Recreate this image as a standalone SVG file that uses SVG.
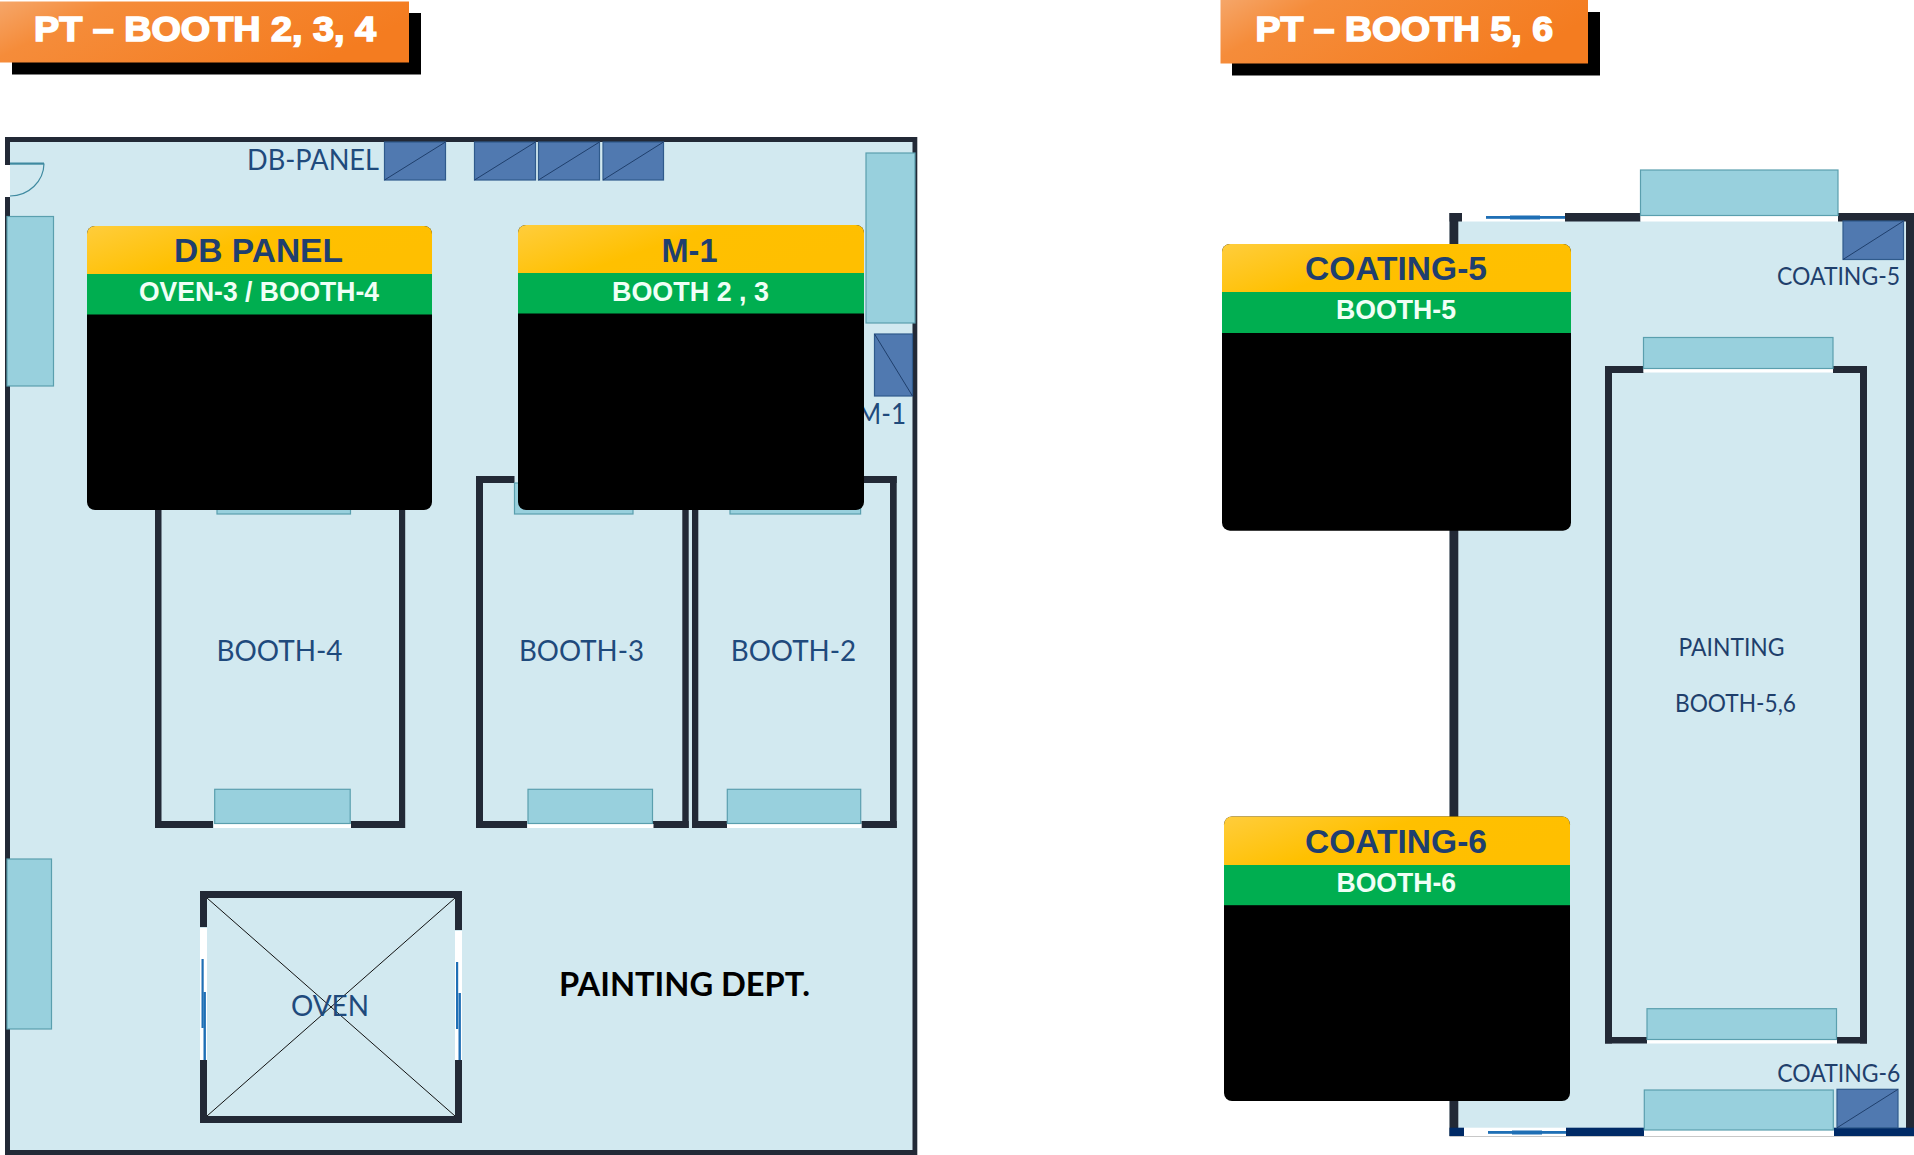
<svg xmlns="http://www.w3.org/2000/svg" width="1914" height="1155" viewBox="0 0 1914 1155">
<style>
.room{fill:#d2e9f0}
.wall{fill:#222936}
.navy{fill:#002a66}
.gap{fill:#fff}
.win{fill:#98d0dd;stroke:#5a9fae;stroke-width:1.2}
.pan{fill:#5079b0;stroke:#2f5a8c;stroke-width:1.2}
.dg{stroke:#1f3f6c;stroke-width:1;fill:none}
.blue{fill:#1f6fb5}
.lbl{font-family:Lato,"Liberation Sans",sans-serif;font-size:29px;fill:#1f4a7c}
.lbs{font-family:Lato,"Liberation Sans",sans-serif;font-size:25px;fill:#1f3f6c}
.h1{font-family:"Liberation Sans",Arial,sans-serif;font-weight:700;font-size:35px;fill:#fff;stroke:#fff;stroke-width:1.6;paint-order:stroke}
.h2{font-family:"Liberation Sans",Arial,sans-serif;font-weight:700;font-size:34px;fill:#1f3f6f;text-anchor:start}
.h3{font-family:"Liberation Sans",Arial,sans-serif;font-weight:700;font-size:27.500px;fill:#f0fff6}
.ln{stroke:#111;stroke-width:1;fill:none}
</style>
<defs>
<linearGradient id="or" x1="0" y1="0" x2="1" y2="0.3"><stop offset="0" stop-color="#f5a669"/><stop offset="0.25" stop-color="#f58c3a"/><stop offset="1" stop-color="#f47c20"/></linearGradient>
<linearGradient id="ye" x1="0" y1="0" x2="1" y2="0.4"><stop offset="0" stop-color="#ffcd3c"/><stop offset="0.5" stop-color="#ffc000"/><stop offset="1" stop-color="#ffbf00"/></linearGradient>
</defs>

<g id="title-left">
<rect x="12" y="13" width="409" height="61.500" fill="#000"/>
<rect x="0" y="1.500" width="409" height="61" fill="url(#or)"/>
<text class="h1" x="34" y="41" textLength="342" lengthAdjust="spacingAndGlyphs">PT – BOOTH 2, 3, 4</text>
</g>
<g id="title-right">
<rect x="1232" y="12" width="368" height="63.500" fill="#000"/>
<rect x="1220.500" y="0" width="367.500" height="63.500" fill="url(#or)"/>
<text class="h1" x="1255.500" y="41" textLength="297.500" lengthAdjust="spacingAndGlyphs">PT – BOOTH 5, 6</text>
</g>

<g id="room-left">
<rect class="room" x="5" y="137" width="912" height="1018"/>
<rect class="wall" x="5" y="137" width="912" height="5"/>
<rect class="wall" x="5" y="1150" width="912" height="5"/>
<rect class="wall" x="5" y="137" width="5" height="1018"/>
<rect class="wall" x="912.500" y="137" width="4.800" height="1018"/>
<rect class="gap" x="5" y="165" width="5" height="32"/>
<path d="M44 163.500A34 33 0 0 1 10 196" fill="none" stroke="#3f8aa0" stroke-width="1.200"/>
<rect x="10" y="162.500" width="34" height="2.200" fill="#3f8aa0"/>
</g>
<g id="windows-left">
<rect class="win" x="7" y="216.500" width="46.500" height="169.500"/>
<rect class="win" x="7" y="859" width="44.500" height="170"/>
<rect class="win" x="866" y="153" width="49" height="170"/>
</g>
<g id="panels-left">
<rect class="pan" x="384.500" y="142" width="61" height="38"/><path class="dg" d="M384.500 180L445.500 142"/>
<rect class="pan" x="474.500" y="142" width="61" height="38"/><path class="dg" d="M474.500 180L535.500 142"/>
<rect class="pan" x="538.500" y="142" width="61" height="38"/><path class="dg" d="M538.500 180L599.500 142"/>
<rect class="pan" x="603" y="142" width="60.500" height="38"/><path class="dg" d="M603 180L663.500 142"/>
<rect class="pan" x="874.500" y="334" width="38" height="62"/><path class="dg" d="M874.500 334L912.500 396"/>
<text class="lbl" x="247" y="170" textLength="132" lengthAdjust="spacingAndGlyphs">DB-PANEL</text>
<text class="lbl" x="857" y="424" textLength="49" lengthAdjust="spacingAndGlyphs">M-1</text>
</g>

<g id="booth-4">
<rect class="win" x="217" y="490" width="133.500" height="24"/>
<rect class="wall" x="155" y="480" width="6.500" height="348"/>
<rect class="wall" x="399" y="480" width="6.200" height="348"/>
<rect class="wall" x="155" y="821" width="58" height="7"/>
<rect class="wall" x="351" y="821" width="54" height="7"/>
<rect class="gap" x="214" y="824" width="137" height="4"/>
<rect class="win" x="214.700" y="789.300" width="135.500" height="34.200"/>
<text class="lbl" x="216.500" y="661" textLength="126" lengthAdjust="spacingAndGlyphs">BOOTH-4</text>
</g>
<g id="booth-3">
<rect class="wall" x="476" y="476" width="38.500" height="7"/>
<rect class="wall" x="476" y="476" width="7" height="352"/>
<rect class="wall" x="682.300" y="500" width="6.400" height="328"/>
<rect class="win" x="514.500" y="483" width="118.500" height="31"/>
<rect class="wall" x="476" y="821" width="51" height="7"/>
<rect class="wall" x="653" y="821" width="35.700" height="7"/>
<rect class="gap" x="527.500" y="824" width="126" height="4"/>
<rect class="win" x="528" y="789.300" width="124.500" height="34.200"/>
<text class="lbl" x="519" y="661" textLength="125" lengthAdjust="spacingAndGlyphs">BOOTH-3</text>
</g>
<g id="booth-2">
<rect class="wall" x="692" y="500" width="6.300" height="328"/>
<rect class="wall" x="890" y="476" width="6.700" height="352"/>
<rect class="wall" x="860" y="476" width="36.700" height="7"/>
<rect class="win" x="730" y="490" width="130.600" height="24"/>
<rect class="wall" x="692" y="821" width="35" height="7"/>
<rect class="wall" x="861.500" y="821" width="35.200" height="7"/>
<rect class="gap" x="727" y="824" width="134.500" height="4"/>
<rect class="win" x="727.300" y="789.300" width="133.400" height="34.200"/>
<text class="lbl" x="730.700" y="661" textLength="125.500" lengthAdjust="spacingAndGlyphs">BOOTH-2</text>
</g>

<g id="oven">
<rect class="wall" x="200" y="891" width="262" height="7"/>
<rect class="wall" x="200" y="1116" width="262" height="7"/>
<rect class="wall" x="200" y="891" width="7" height="36"/>
<rect class="wall" x="200" y="1060" width="7" height="63"/>
<rect class="wall" x="455" y="891" width="7" height="39"/>
<rect class="wall" x="455" y="1060" width="7" height="63"/>
<rect class="gap" x="200" y="928" width="7" height="132"/>
<rect class="gap" x="455" y="931" width="7" height="129"/>
<rect class="blue" x="201.500" y="959" width="2.200" height="69"/>
<rect class="blue" x="203.500" y="992" width="2.400" height="68"/>
<rect class="blue" x="456" y="962" width="2.200" height="67"/>
<rect class="blue" x="458.500" y="993" width="2.400" height="67"/>
<path class="ln" d="M207 898L455 1116M455 898L207 1116"/>
<text class="lbl" x="291" y="1016" textLength="78" lengthAdjust="spacingAndGlyphs">OVEN</text>
</g>
<text id="dept" x="559" y="995.500" textLength="251" lengthAdjust="spacingAndGlyphs" font-family="Lato,'Liberation Sans',sans-serif" font-weight="700" font-size="33" fill="#000">PAINTING DEPT.</text>

<g id="room-right">
<rect class="room" x="1449.500" y="213" width="464.500" height="923"/>
<rect x="1449.500" y="1136" width="464.500" height="1" fill="#c8c8c8"/>
<rect class="wall" x="1449.500" y="213" width="8.800" height="923"/>
<rect class="wall" x="1906" y="213" width="8" height="923"/>
<rect class="wall" x="1449.500" y="213" width="12.500" height="8.500"/>
<rect class="gap" x="1462" y="213" width="103" height="8.500"/>
<rect class="wall" x="1565" y="213" width="75.500" height="8.500"/>
<rect class="gap" x="1640.500" y="213" width="197.500" height="8.500"/>
<rect class="wall" x="1838" y="213" width="76" height="8.500"/>
<rect class="blue" x="1486" y="216" width="79" height="2.800"/>
<rect class="blue" x="1510" y="215.500" width="30" height="4"/>
<rect class="win" x="1640.500" y="170" width="197.500" height="45.500"/>
<rect class="navy" x="1449.500" y="1127.700" width="14.500" height="8.300"/>
<rect class="gap" x="1464" y="1127.700" width="102" height="8.300"/>
<rect class="navy" x="1566" y="1127.700" width="78" height="8.300"/>
<rect class="gap" x="1644" y="1127.700" width="190" height="8.300"/>
<rect class="navy" x="1834" y="1127.700" width="80" height="8.300"/>
<rect class="blue" x="1488" y="1131" width="78" height="2.800"/>
<rect class="blue" x="1512" y="1130.500" width="30" height="4"/>
<rect class="win" x="1644.300" y="1090" width="189" height="40"/>
</g>
<g id="panels-right">
<rect class="pan" x="1843" y="221" width="60.500" height="38.500"/><path class="dg" d="M1843 259.500L1903.500 221"/>
<rect class="pan" x="1837" y="1089.300" width="61" height="38.500"/><path class="dg" d="M1837 1127.800L1898 1089.300"/>
<text class="lbs" x="1777" y="285" textLength="123" lengthAdjust="spacingAndGlyphs">COATING-5</text>
<text class="lbs" x="1777.300" y="1082" textLength="123" lengthAdjust="spacingAndGlyphs">COATING-6</text>
</g>
<g id="booth-5-6">
<rect class="wall" x="1605" y="366" width="7" height="677.500"/>
<rect class="wall" x="1860" y="366" width="7" height="677.500"/>
<rect class="wall" x="1605" y="366" width="38.500" height="7"/>
<rect class="wall" x="1833" y="366" width="34" height="7"/>
<rect class="gap" x="1643.500" y="368.500" width="189.500" height="4"/>
<rect class="win" x="1643.500" y="337.500" width="189.500" height="31"/>
<rect class="wall" x="1605" y="1037" width="42" height="6.500"/>
<rect class="wall" x="1837" y="1037" width="30" height="6.500"/>
<rect class="gap" x="1647" y="1039.500" width="190" height="4"/>
<rect class="win" x="1647" y="1008.700" width="189.500" height="30.800"/>
<text class="lbs" x="1678.500" y="656" textLength="106" lengthAdjust="spacingAndGlyphs">PAINTING</text>
<text class="lbs" x="1675" y="712" textLength="121" lengthAdjust="spacingAndGlyphs">BOOTH-5,6</text>
</g>

<g id="card-db-panel">
<rect x="87" y="226" width="345" height="284" rx="8" fill="#000"/>
<path d="M87 274V234a8 8 0 0 1 8-8H424a8 8 0 0 1 8 8V274Z" fill="url(#ye)"/>
<rect x="87" y="274" width="345" height="40.500" fill="#00ae50"/>
<text class="h2" x="174" y="262" textLength="169" lengthAdjust="spacingAndGlyphs">DB PANEL</text>
<text class="h3" x="139" y="301.200" textLength="240" lengthAdjust="spacingAndGlyphs">OVEN-3 / BOOTH-4</text>
</g>
<g id="card-m-1">
<rect x="518" y="225" width="346" height="285" rx="8" fill="#000"/>
<path d="M518 273V233a8 8 0 0 1 8-8H856a8 8 0 0 1 8 8V273Z" fill="url(#ye)"/>
<rect x="518" y="273" width="346" height="40.500" fill="#00ae50"/>
<text class="h2" x="661.500" y="261.500" textLength="56" lengthAdjust="spacingAndGlyphs">M-1</text>
<text class="h3" x="612" y="300.500" textLength="157" lengthAdjust="spacingAndGlyphs">BOOTH 2 , 3</text>
</g>
<g id="card-coating-5">
<rect x="1222" y="244" width="349" height="286.700" rx="8" fill="#000"/>
<path d="M1222 292V252a8 8 0 0 1 8-8H1563a8 8 0 0 1 8 8V292Z" fill="url(#ye)"/>
<rect x="1222" y="292" width="349" height="41" fill="#00ae50"/>
<text class="h2" x="1305" y="279.700" textLength="182" lengthAdjust="spacingAndGlyphs">COATING-5</text>
<text class="h3" x="1336" y="318.700" textLength="120" lengthAdjust="spacingAndGlyphs">BOOTH-5</text>
</g>
<g id="card-coating-6">
<rect x="1224" y="816.500" width="346" height="284.500" rx="8" fill="#000"/>
<path d="M1224 865V824.500a8 8 0 0 1 8-8H1562a8 8 0 0 1 8 8V865Z" fill="url(#ye)"/>
<rect x="1224" y="865" width="346" height="40.200" fill="#00ae50"/>
<text class="h2" x="1305" y="852.800" textLength="182" lengthAdjust="spacingAndGlyphs">COATING-6</text>
<text class="h3" x="1336.500" y="891.500" textLength="119.500" lengthAdjust="spacingAndGlyphs">BOOTH-6</text>
</g>
<g id="connectors"></g>
</svg>
